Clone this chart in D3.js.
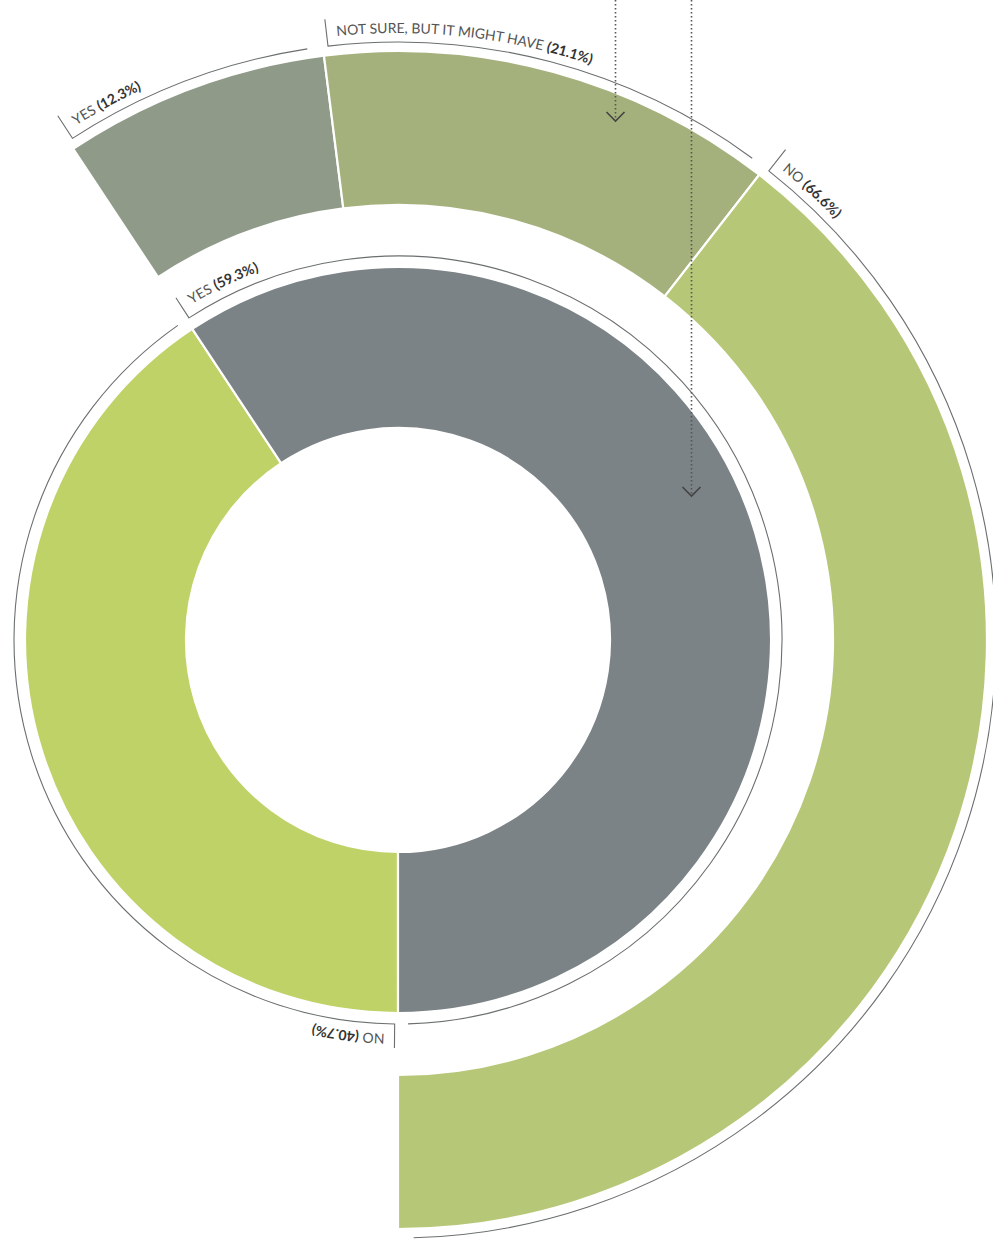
<!DOCTYPE html>
<html>
<head>
<meta charset="utf-8">
<script src="https://cdn.jsdelivr.net/npm/d3@7"></script>
<style>
  body { margin: 0; background: #fff; }
  svg { display: block; }
</style>
</head>
<body>
<div id="chart"></div>
<script>
"use strict";

const innerLabels = ["NO", "YES"];
const innerValues = [40.7, 59.3];
const outerLabels = ["YES", "NOT SURE, BUT IT MIGHT HAVE", "NO"];
const outerValues = [12.3, 21.1, 66.6];
const innerColors = ["#bfd267", "#7b8386"];
const outerColors = ["#8f9a89", "#a5b17c", "#b6c878"];

const plot = {
    width: 993,
    height: 1243,
    cx: 398,
    cy: 640
}

const rings = {
    inner: { r0: 212, r1: 373, outline: 384, tick: 408, text: 394 },
    outer: { r0: 435, r1: 589, outline: 598, tick: 625, text: 607 }
}

const deg = Math.PI / 180;

// annotation arrows coming from above the crop
const pointers = [
    { x: 615.5, tip: 121 },
    { x: 691.5, tip: 496 }
];

window.onload = function () {
    let svg = d3.select("#chart")
        .append("svg")
        .attr("width", plot.width)
        .attr("height", plot.height);
    let g = svg.append("g")
        .attr("transform", "translate(" + plot.cx + "," + plot.cy + ")");

    let innerPie = d3.pie().sort(null)
        .startAngle(Math.PI)
        .endAngle(3 * Math.PI);
    let innerData = innerPie(innerValues);
    let yes = innerData[1];
    let outerPie = d3.pie().sort(null)
        .startAngle(yes.startAngle)
        .endAngle(yes.endAngle);
    let outerData = outerPie(outerValues);

    drawRing(g, innerData, rings.inner, innerColors, innerLabels, innerValues, "in");
    drawRing(g, outerData, rings.outer, outerColors, outerLabels, outerValues, "out");
    drawPointers(svg);
}

function drawRing(g, data, ring, colors, labels, values, id) {
    let arc = d3.arc()
        .innerRadius(ring.r0)
        .outerRadius(ring.r1);

    g.selectAll(".slice-" + id)
        .data(data)
        .enter()
        .append("path")
        .attr("class", "slice-" + id)
        .attr("d", arc)
        .attr("fill", (d, i) => colors[i])
        .attr("stroke", "#fff")
        .attr("stroke-width", 2.2);

    // outline bracket for each slice
    data.forEach((d, i) => {
        let a0 = d.startAngle + 0.5 * deg;
        let a1 = d.endAngle - 1.5 * deg;
        let p = d3.path();
        p.moveTo(ring.tick * Math.sin(a0), -ring.tick * Math.cos(a0));
        p.lineTo(ring.outline * Math.sin(a0), -ring.outline * Math.cos(a0));
        p.arc(0, 0, ring.outline, a0 - Math.PI / 2, a1 - Math.PI / 2);
        g.append("path")
            .attr("d", p.toString())
            .attr("fill", "none")
            .attr("stroke", "#6b6f70")
            .attr("stroke-width", 1.1);

        let tp = d3.path();
        tp.arc(0, 0, ring.text, a0 - Math.PI / 2, d.endAngle - Math.PI / 2);
        g.append("path")
            .attr("id", "lab-" + id + i)
            .attr("d", tp.toString())
            .attr("fill", "none");

        let text = g.append("text")
            .attr("font-family", "Lato, 'Open Sans', sans-serif")
            .attr("font-size", "14px")
            .append("textPath")
            .attr("href", "#lab-" + id + i)
            .attr("startOffset", 10);
        text.append("tspan")
            .attr("fill", "#555")
            .attr("font-weight", 400)
            .text(labels[i] + " ");
        text.append("tspan")
            .attr("fill", "#333")
            .attr("font-weight", 700)
            .text("(" + values[i].toFixed(1) + "%)");
    });
}

function drawPointers(svg) {
    pointers.forEach((p) => {
        svg.append("line")
            .attr("x1", p.x).attr("x2", p.x)
            .attr("y1", 0).attr("y2", p.tip - 1)
            .attr("stroke", "#555")
            .attr("stroke-width", 1.6)
            .attr("stroke-dasharray", "1.6,2.4");
        svg.append("path")
            .attr("d", "M" + (p.x - 9) + "," + (p.tip - 9) + "L" + p.x + "," + p.tip + "L" + (p.x + 9) + "," + (p.tip - 9))
            .attr("fill", "none")
            .attr("stroke", "#444")
            .attr("stroke-width", 1.6);
    });
}
</script>
</body>
</html>
